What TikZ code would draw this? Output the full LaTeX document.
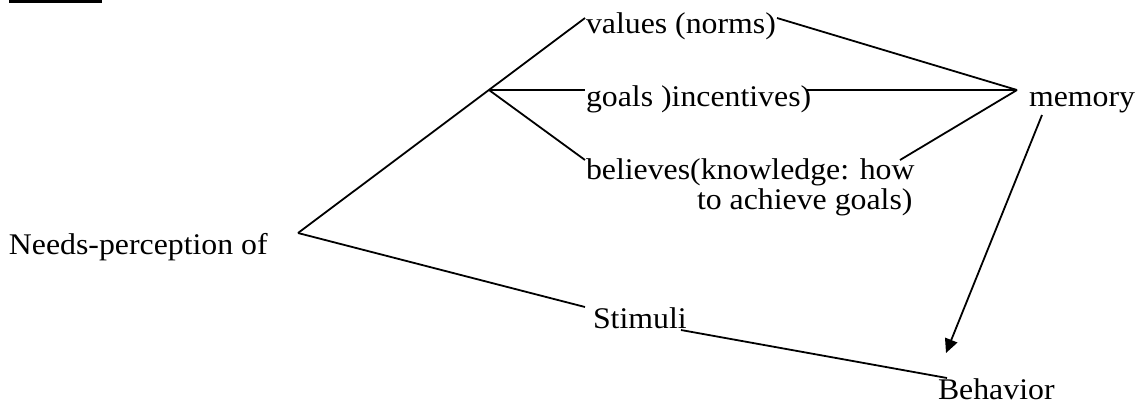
\documentclass[tikz,border=0pt]{standalone}
\usepackage{fontspec}
\setmainfont{Liberation Serif}[FakeStretch=1.06]
\usetikzlibrary{arrows.meta}
\begin{document}
\begin{tikzpicture}[x=0.5pt,y=-0.5pt,
  lbl/.style={anchor=base west,inner sep=0pt,outer sep=0pt,font=\fontsize{15pt}{13.5pt}\selectfont},
  conn/.style={line width=0.9pt},
  arr/.style={line width=0.9pt,-{Triangle[length=7pt,width=6.5pt]}}]
\useasboundingbox (0,0) rectangle (1139,403);
\fill (9,0) rectangle (102,2.5);
% labels
\node[lbl] (needs) at (9,254) {Needs-perception of};
\node[lbl] (values) at (586,33) {values (norms)};
\node[lbl] (goals) at (586,106) {goals )incentives)};
\node[lbl,align=left] (believes) at (586,209) {believes(knowledge: how\\\hspace*{55.5pt}to achieve goals)};
\node[lbl] (memory) at (1029,106) {memory};
\node[lbl] (stimuli) at (593,328) {Stimuli};
\node[lbl] (behavior) at (938,399) {Behavior};
% connector points
\coordinate (nv) at (298,233);
\coordinate (br) at (489,90);
\coordinate (vl) at (585,18);
\coordinate (gl) at (585,90);
\coordinate (bl) at (585,160);
\coordinate (vr) at (777,18);
\coordinate (gr) at (807,90);
\coordinate (bhow) at (900,160);
\coordinate (mv) at (1017,90);
\coordinate (ms) at (1042,115);
\coordinate (bt) at (946,353);
\coordinate (sl) at (585,307);
\coordinate (sr) at (681,330);
\coordinate (be) at (947,378);
% connectors
\draw[conn] (nv) -- (vl);
\draw[conn] (br) -- (gl);
\draw[conn] (br) -- (bl);
\draw[conn] (vr) -- (mv);
\draw[conn] (gr) -- (mv);
\draw[conn] (bhow) -- (mv);
\draw[conn] (nv) -- (sl);
\draw[conn] (sr) -- (be);
\draw[arr] (ms) -- (bt);
\end{tikzpicture}
\end{document}
